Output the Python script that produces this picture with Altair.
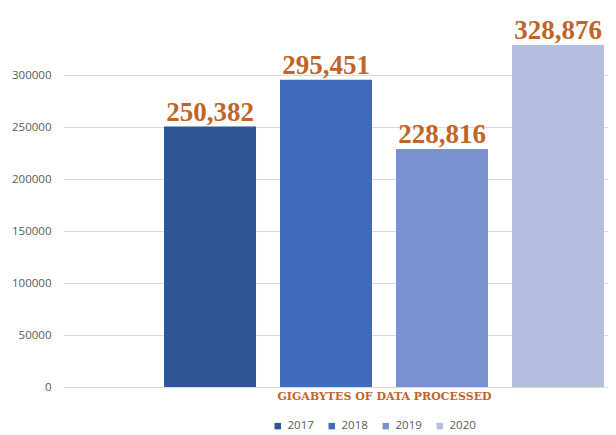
import altair as alt
import pandas as pd

years = ["2017", "2018", "2019", "2020"]
values = [250382, 295451, 228816, 328876]
colors = ["#2F5597", "#3F6BBA", "#7992CF", "#B4BFE0"]
y_ticks = [0, 50000, 100000, 150000, 200000, 250000, 300000]

df = pd.DataFrame({"year": years, "value": values})

x_enc = alt.X(
    "year:N",
    sort=years,
    scale=alt.Scale(domain=years, paddingInner=0.2069, paddingOuter=0.4526, align=0.962),
    axis=alt.Axis(
        labels=False, ticks=False, domain=False, grid=False,
        title="GIGABYTES OF DATA PROCESSED",
        titleFont="DejaVu Serif", titleFontWeight="bold", titleFontSize=11,
        titleColor="#C0652A", titleX=321, titleY=12,
        titleAlign="center", titleBaseline="alphabetic",
    ),
)

y_enc = alt.Y(
    "value:Q",
    scale=alt.Scale(domain=[0, 350000], nice=False),
    axis=alt.Axis(
        title=None, values=y_ticks, format="d", domain=False, ticks=False,
        labelPadding=12, labelFont="Open Sans", labelFontSize=11.5,
        labelColor="#595959", gridColor="#D9D9D9", gridWidth=1,
    ),
)

bars = alt.Chart(df).mark_bar().encode(
    x=x_enc,
    y=y_enc,
    color=alt.Color(
        "year:N",
        scale=alt.Scale(domain=years, range=colors),
        legend=alt.Legend(
            orient="none", legendX=209, legendY=397, direction="horizontal",
            title=None, symbolType="square", symbolSize=42, symbolStrokeWidth=0,
            labelFont="Open Sans", labelFontSize=11.5, labelColor="#595959",
            labelOffset=4, columnPadding=12,
        ),
    ),
)

labels = alt.Chart(df).mark_text(
    font="Liberation Serif", fontWeight="bold", fontSize=27,
    color="#C0652A", dy=-6, baseline="alphabetic",
).encode(
    x=alt.X("year:N", sort=years),
    y=alt.Y("value:Q"),
    text=alt.Text("value:Q", format=","),
)

chart = (
    alt.layer(bars, labels)
    .properties(
        width=545, height=364,
        autosize=alt.AutoSizeParams(type="none"),
        padding={"left": 55, "top": 15, "right": 0, "bottom": 46},
        background="white",
    )
    .configure_view(stroke=None)
)

chart.save("out.html", embed_options={"renderer": "svg", "actions": False})
